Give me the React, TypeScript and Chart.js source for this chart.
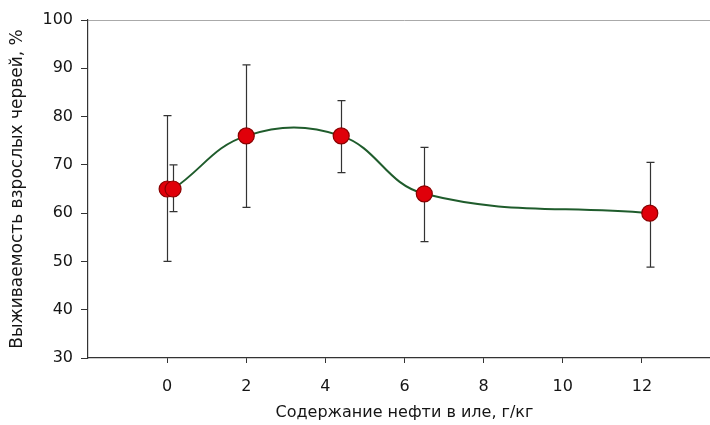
import React, { useEffect, useRef } from "react";
import { Chart, registerables } from "chart.js";

Chart.register(...registerables);

const xValues = [0, 0.15, 2, 4.4, 6.5, 12.2];
const yValues = [65, 65, 76, 76, 64, 60];
const errLow = [50, 60.3, 61.2, 68.4, 54.1, 48.8];
const errHigh = [80.2, 70, 90.7, 83.3, 73.6, 70.5];
const xTicks = [0, 2, 4, 6, 8, 10, 12];
const yTicks = [30, 40, 50, 60, 70, 80, 90, 100];
const xTitle = "Содержание нефти в иле, г/кг";
const yTitle = "Выживаемость взрослых червей, %";

const FONT = "DejaVu Sans";
const TEXT = "#151515";

const errorBars = {
  id: "errorBars",
  beforeDatasetsDraw(chart: any) {
    const { ctx, scales } = chart;
    const x = scales.x;
    const y = scales.y;
    ctx.save();
    ctx.strokeStyle = "#333";
    ctx.lineWidth = 1.2;
    xValues.forEach((xv, i) => {
      const px = Math.round(x.getPixelForValue(xv)) + 0.5;
      const top = y.getPixelForValue(errHigh[i]);
      const bot = y.getPixelForValue(errLow[i]);
      ctx.beginPath();
      ctx.moveTo(px, top);
      ctx.lineTo(px, bot);
      ctx.moveTo(px - 4, top);
      ctx.lineTo(px + 4, top);
      ctx.moveTo(px - 4, bot);
      ctx.lineTo(px + 4, bot);
      ctx.stroke();
    });
    ctx.restore();
  },
};

export default function App() {
  const ref = useRef<HTMLCanvasElement | null>(null);
  useEffect(() => {
    if (!ref.current) return;
    const chart = new Chart(ref.current, {
      type: "line",
      data: {
        datasets: [
          {
            data: xValues.map((x, i) => ({ x, y: yValues[i] })),
            borderColor: "#1f5c2c",
            borderWidth: 2,
            tension: 0.4,
            pointRadius: 8,
            pointBackgroundColor: "#e0000a",
            pointBorderColor: "#8a0000",
            pointBorderWidth: 1.2,
            fill: false,
          },
        ],
      },
      options: {
        responsive: false,
        animation: false,
        layout: { padding: { left: 0, right: 19, top: 20, bottom: 0 } },
        plugins: { legend: { display: false }, tooltip: { enabled: false } },
        scales: {
          x: {
            type: "linear",
            min: -2,
            max: 14,
            afterBuildTicks: (s: any) => {
              s.ticks = xTicks.map((v) => ({ value: v }));
            },
            afterFit: (s: any) => {
              s.height = 67;
            },
            grid: { color: "transparent", tickColor: "#333", tickLength: 5 },
            border: { color: "#333", width: 1.2 },
            ticks: {
              font: { family: FONT, size: 16 },
              color: TEXT,
              padding: 14,
              maxRotation: 0,
            },
            title: {
              display: true,
              text: xTitle,
              font: { family: FONT, size: 16 },
              color: TEXT,
              padding: { top: 0, bottom: 3 },
            },
          },
          y: {
            type: "linear",
            min: 30,
            max: 100,
            afterBuildTicks: (s: any) => {
              s.ticks = yTicks.map((v) => ({ value: v }));
            },
            afterFit: (s: any) => {
              s.width = 88;
            },
            grid: {
              color: (c: any) => (c.tick && c.tick.value === 100 ? "#aaa" : "transparent"),
              tickColor: "#333",
              tickLength: 7,
            },
            border: { color: "#333", width: 1.2 },
            ticks: {
              font: { family: FONT, size: 16 },
              color: TEXT,
              padding: 8,
            },
            title: {
              display: true,
              text: yTitle,
              font: { family: FONT, size: 17 },
              color: TEXT,
              padding: { top: 7, bottom: 0 },
            },
          },
        },
      },
      plugins: [errorBars],
    });
    return () => chart.destroy();
  }, []);
  return (
    <div
      style={{
        position: "absolute",
        left: 0,
        top: 0,
        width: 710,
        height: 425,
        overflow: "hidden",
        background: "#fff",
      }}
    >
      <canvas ref={ref} width={740} height={425} style={{ display: "block" }} />
    </div>
  );
}
